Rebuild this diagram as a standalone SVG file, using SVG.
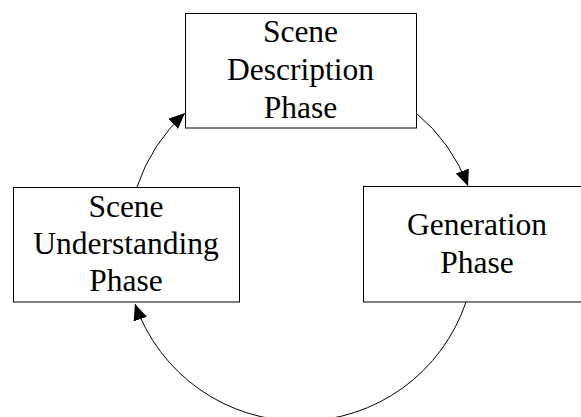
<svg xmlns="http://www.w3.org/2000/svg" width="581" height="417" viewBox="0 0 581 417">
  <style>
    .box { fill: #ffffff; stroke: #000000; stroke-width: 1; }
    .label { font-size: 31.5px; fill: #000000; text-anchor: middle; }
    .link { fill: none; stroke: #000000; stroke-width: 1; marker-end: url(#arrow); }
  </style>
  <defs>
    <marker id="arrow" markerUnits="userSpaceOnUse" markerWidth="16" markerHeight="14" viewBox="0 0 16 14" refX="16" refY="7" orient="auto">
      <path d="M0,0 L16,7 L0,14 Z" fill="#000000"/>
    </marker>
  </defs>

  <!-- cycle connectors -->
  <g id="connectors">
    <path class="link" d="M137,187 A175,175 0 0 1 185,113"/>
    <path class="link" d="M416,113 A175,175 0 0 1 468,186"/>
    <path class="link" d="M466,302 A175,175 0 0 1 135,304"/>
  </g>

  <g font-family="Liberation Serif, Times New Roman, Times, serif">
    <g id="scene-description">
      <rect class="box" x="185.5" y="13.5" width="231" height="114.5"/>
      <text class="label" x="300.5" y="42">Scene</text>
      <text class="label" x="300.5" y="80">Description</text>
      <text class="label" x="300.5" y="118">Phase</text>
    </g>

    <g id="scene-understanding">
      <rect class="box" x="13.5" y="187.5" width="226" height="114.5"/>
      <text class="label" x="126" y="217">Scene</text>
      <text class="label" x="126" y="254">Understanding</text>
      <text class="label" x="126" y="291">Phase</text>
    </g>

    <g id="generation">
      <rect class="box" x="363.5" y="186.5" width="228" height="115.5"/>
      <text class="label" x="477" y="235">Generation</text>
      <text class="label" x="477" y="273">Phase</text>
    </g>
  </g>
</svg>
